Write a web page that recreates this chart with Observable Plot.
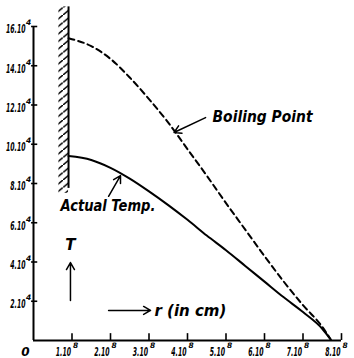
<!DOCTYPE html>
<html><head><meta charset="utf-8">
<script src="https://cdn.jsdelivr.net/npm/d3@7"></script>
<script src="https://cdn.jsdelivr.net/npm/@observablehq/plot@0.6"></script>
<style>body{margin:0;background:#fff} svg{display:block}</style>
</head><body><div id="chart"></div>
<script>
// radius in units of 10^8 cm, temperature in units of 10^4
const rValues   = [0.91, 1.5, 2.0, 2.5, 3.0, 3.5, 4.0, 4.5, 5.0, 5.5, 6.0, 6.5, 7.0, 7.5, 7.72];
const boiling   = [15.4, 15.0, 14.35, 13.4, 12.3, 11.1, 9.75, 8.4, 7.0, 5.65, 4.3, 3.0, 1.8, 0.7, 0.05];
const actual    = [9.4, 9.2, 8.8, 8.25, 7.6, 6.9, 6.15, 5.35, 4.6, 3.8, 3.0, 2.2, 1.45, 0.6, 0.05];
const yTicks = [2, 4, 6, 8, 10, 12, 14, 16];
const xTicks = [1, 2, 3, 4, 5, 6, 7, 8];
const yExp = "4", xExp = "8";
const wallR = 0.91, wallTop = 17.0, wallBottom = 7.75;

const boilData = rValues.map((r, i) => ({r, t: boiling[i]}));
const actData = rValues.map((r, i) => ({r, t: actual[i]}));

const YLAB = "#010101", XLAB = "#010102"; // marker colours for post-processed tick labels
const tickFont = {fontFamily: "'DejaVu Sans', sans-serif", fontStyle: "italic", fontWeight: "bold"};
const noteFont = {fontFamily: "'DejaVu Sans', sans-serif", fontStyle: "italic", fontWeight: "bold", fontSize: 15};

const chart = Plot.plot({
  width: 354, height: 358,
  marginLeft: 33, marginRight: 13, marginTop: 26, marginBottom: 18,
  x: {domain: [0, 8], axis: null},
  y: {domain: [0, 16], axis: null},
  marks: [
    // wall hatching
    Plot.rect([{r: wallR}], {x1: d => d.r - 0.25, x2: d => d.r, y1: wallBottom - 0.25, y2: wallTop, fill: "url(#hatch)"}),
    Plot.ruleX([wallR], {y1: wallBottom, y2: wallTop, strokeWidth: 2, stroke: "black"}),
    // axes
    Plot.ruleX([0], {y1: 0, y2: 16, strokeWidth: 2, stroke: "black"}),
    Plot.ruleY([0], {x1: 0, x2: 8, strokeWidth: 2, stroke: "black"}),
    Plot.ruleY(yTicks, {x1: -0.05, x2: 0.11, strokeWidth: 1.6, stroke: "black"}),
    Plot.ruleX(xTicks, {y1: 0, y2: 0.35, strokeWidth: 1.6, stroke: "black"}),
    Plot.text(yTicks, {x: 0, y: d => d, text: d => `${d}.10|${yExp}`, textAnchor: "start", dx: -2, dy: 3, fontSize: 12, fill: YLAB, ...tickFont}),
    Plot.text(xTicks, {x: d => d, y: 0, text: d => `${d}.10|${xExp}`, textAnchor: "start", dx: 0, dy: 12, fontSize: 12, fill: XLAB, ...tickFont}),
    Plot.text([0], {x: 0, y: 0, text: () => "0", dx: -8, dy: 12, fontSize: 12, fill: "black", ...tickFont}),
    // curves
    Plot.line(boilData, {x: "r", y: "t", curve: "monotone-x", stroke: "black", strokeWidth: 2, strokeDasharray: "6,4"}),
    Plot.line(actData, {x: "r", y: "t", curve: "monotone-x", stroke: "black", strokeWidth: 2}),
    // annotations (fill colour is a marker for the width fit below)
    Plot.text(["Boiling Point"], {x: 4.65, y: 11.4, text: d => d, textAnchor: "start", ...noteFont, fill: "#000003"}),
    Plot.arrow([0], {x1: 4.47, y1: 11.36, x2: 3.65, y2: 10.6, stroke: "black", strokeWidth: 1.5, headLength: 8}),
    Plot.text(["Actual Temp."], {x: 0.70, y: 6.85, text: d => d, textAnchor: "start", ...noteFont, fill: "#000004"}),
    Plot.arrow([0], {x1: 1.95, y1: 7.35, x2: 2.26, y2: 8.4, stroke: "black", strokeWidth: 1.5, headLength: 8}),
    Plot.text(["T"], {x: 0.96, y: 4.84, text: d => d, ...noteFont, fill: "black"}),
    Plot.arrow([0], {x1: 0.96, y1: 2.04, x2: 0.96, y2: 3.97, stroke: "black", strokeWidth: 1.5, headLength: 8}),
    Plot.arrow([0], {x1: 1.95, y1: 1.53, x2: 3.04, y2: 1.53, stroke: "black", strokeWidth: 1.5, headLength: 8}),
    Plot.text(["r (in cm)"], {x: 3.14, y: 1.5, text: d => d, textAnchor: "start", ...noteFont, fill: "#000002"})
  ]
});

const svg = d3.select(chart);
const pat = svg.insert("defs", ":first-child").append("pattern")
  .attr("id", "hatch").attr("patternUnits", "userSpaceOnUse")
  .attr("width", 9).attr("height", 7.5);
pat.append("line").attr("x1", 0).attr("y1", 7.5).attr("x2", 9).attr("y2", 0)
  .attr("stroke", "black").attr("stroke-width", 1.5);
// tick labels: condensed mantissa + raised exponent, in one text element (start-anchored)
function supLabel(marker, leadFn, gap) {
  svg.selectAll(`g[fill="${marker}"] text`).each(function() {
    const [main, exp] = this.textContent.split("|");
    const t = d3.select(this);
    t.text(null);
    const w = main.replace(/\D/g, "").length * 4.4 + 2;
    t.append("tspan").text(main).attr("dx", leadFn(w)).attr("textLength", w).attr("lengthAdjust", "spacingAndGlyphs");
    t.append("tspan").text(exp).attr("font-size", 7.5).attr("dx", gap).attr("dy", -8);
  });
  svg.selectAll(`g[fill="${marker}"]`).attr("fill", "black");
}
supLabel(YLAB, w => -(w + 1 + 5), 0.5);
supLabel(XLAB, w => -(w + 1), 2);
// fit annotation widths to the hand lettering
[["#000002", 72], ["#000003", 100], ["#000004", 95]].forEach(([m, w]) => {
  svg.selectAll(`g[fill="${m}"] text`).attr("textLength", w).attr("lengthAdjust", "spacingAndGlyphs");
  svg.selectAll(`g[fill="${m}"]`).attr("fill", "black");
});
document.getElementById("chart").append(chart);
</script>
</body></html>
